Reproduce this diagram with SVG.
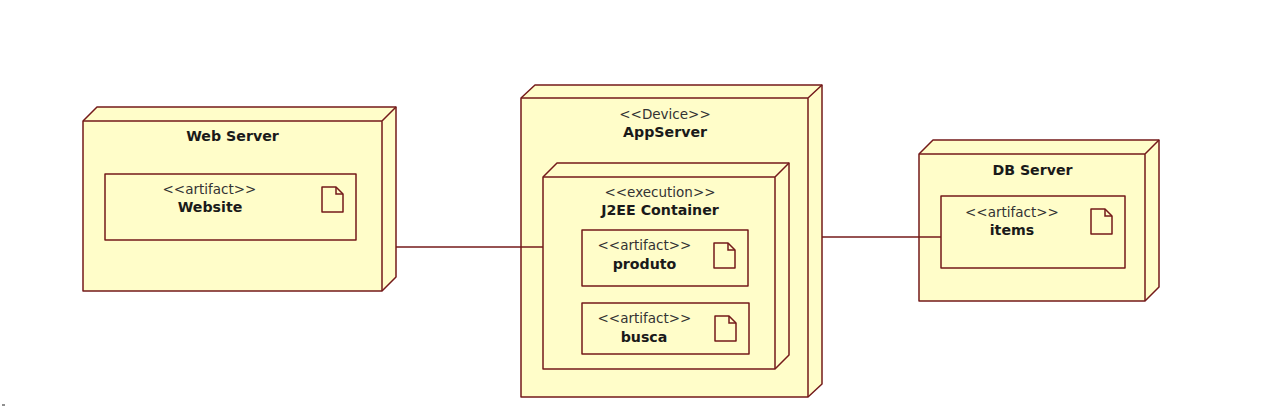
<svg xmlns="http://www.w3.org/2000/svg" width="1272" height="406" viewBox="0 0 1272 406">
<style>
.s{fill:#fffdc9;stroke:#741a1a;stroke-width:1.5;stroke-linejoin:round}
.c{fill:none;stroke:#741a1a;stroke-width:1.5}
text{font-family:"DejaVu Sans","Noto Sans",sans-serif;text-anchor:middle;fill:#1a1a1a}
.b{font-weight:700;font-size:14.200px}
.n{font-size:13.500px;fill:#333}
</style>
<defs>
<g id="doc"><path class="s" d="M0 0H14L21 7V25H0Z"/><path class="c" d="M14 0V7H21"/></g>
</defs>
<rect width="1272" height="406" fill="#fff"/>
<g id="web-server">
<path class="s" d="M83 121L97 107H396V277L382 291H83Z"/>
<path class="c" d="M83 121H382V291M382 121L396 107"/>
<text class="b" x="232.500" y="141">Web Server</text>
<g id="website">
<rect class="s" x="105" y="174" width="251" height="66"/>
<text class="n" x="209.500" y="194">&lt;&lt;artifact&gt;&gt;</text>
<text class="b" x="210" y="212">Website</text>
<use href="#doc" x="322" y="187"/>
</g>
</g>
<g id="app-server">
<path class="s" d="M521 98L535 85H822V384L808 397H521Z"/>
<path class="c" d="M521 98H808V397M808 98L822 85"/>
<text class="n" x="665" y="119">&lt;&lt;Device&gt;&gt;</text>
<text class="b" x="665" y="137">AppServer</text>
<g id="j2ee-container">
<path class="s" d="M543 177L557 163H789V355L775 369H543Z"/>
<path class="c" d="M543 177H775V369M775 177L789 163"/>
<text class="n" x="660" y="197">&lt;&lt;execution&gt;&gt;</text>
<text class="b" x="660" y="215">J2EE Container</text>
<g id="produto">
<rect class="s" x="582" y="230" width="166" height="56"/>
<text class="n" x="644.500" y="250">&lt;&lt;artifact&gt;&gt;</text>
<text class="b" x="644.500" y="269">produto</text>
<use href="#doc" x="714" y="243"/>
</g>
<g id="busca">
<rect class="s" x="582" y="303" width="167" height="51"/>
<text class="n" x="644.500" y="323">&lt;&lt;artifact&gt;&gt;</text>
<text class="b" x="644" y="342">busca</text>
<use href="#doc" x="715" y="316"/>
</g>
</g>
</g>
<g id="db-server">
<path class="s" d="M919 154L933 140H1159V287L1145 301H919Z"/>
<path class="c" d="M919 154H1145V301M1145 154L1159 140"/>
<text class="b" x="1032.500" y="175">DB Server</text>
<g id="items">
<rect class="s" x="941" y="196" width="184" height="72"/>
<text class="n" x="1012" y="217">&lt;&lt;artifact&gt;&gt;</text>
<text class="b" x="1012" y="235">items</text>
<use href="#doc" x="1091" y="209"/>
</g>
</g>
<g id="connectors">
<path class="c" d="M396 247H543"/>
<path class="c" d="M822 237H941"/>
</g>
<rect x="2" y="404.500" width="3" height="1" fill="#222"/>
</svg>
